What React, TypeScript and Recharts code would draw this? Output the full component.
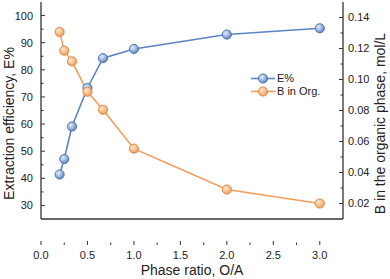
import { Label, Legend, Line, LineChart, XAxis, YAxis } from "recharts";

const phaseRatio = [0.2, 0.25, 0.333, 0.5, 0.667, 1, 2, 3];
const efficiency = [41.4, 47.1, 59.1, 73.3, 84.3, 87.7, 93.0, 95.3];
const bInOrg = [0.1307, 0.1186, 0.1117, 0.0921, 0.0805, 0.0554, 0.029, 0.02];

const xTicks = [0, 0.25, 0.5, 0.75, 1, 1.25, 1.5, 1.75, 2, 2.25, 2.5, 2.75, 3];
const leftTicks = [30, 35, 40, 45, 50, 55, 60, 65, 70, 75, 80, 85, 90, 95, 100];
const rightTicks = [0.02, 0.03, 0.04, 0.05, 0.06, 0.07, 0.08, 0.09, 0.1, 0.11, 0.12, 0.13, 0.14];

const data = phaseRatio.map((x, i) => ({ x, e: efficiency[i], b: bInOrg[i] }));

const W = 390;
const H = 279;
const PLOT_LEFT = 41;
const PLOT_RIGHT = 343;
const PLOT_TOP = 2;
const PLOT_BOTTOM = 245;
const AXIS = "#333";
const BLUE = "#5b84c4";
const ORANGE = "#f39d57";
const FONT = "Liberation Sans, Arial, sans-serif";

const renderLeftTick = (props: any) => {
  const { y, payload } = props;
  const major = payload.value % 10 === 0;
  return (
    <g key={`l-${payload.value}`}>
      <line x1={PLOT_LEFT} x2={PLOT_LEFT + (major ? 4 : 2.5)} y1={y} y2={y} stroke={AXIS} />
      {major && (
        <text x={PLOT_LEFT - 8} y={y} dy="0.36em" textAnchor="end" fontSize={11} fill="#222" fontFamily={FONT}>
          {payload.value}
        </text>
      )}
    </g>
  );
};

const renderRightTick = (props: any) => {
  const { y, payload } = props;
  const major = Math.round(payload.value * 100) % 2 === 0;
  return (
    <g key={`r-${payload.value}`}>
      <line x1={PLOT_RIGHT} x2={PLOT_RIGHT - (major ? 4 : 2.5)} y1={y} y2={y} stroke={AXIS} />
      {major && (
        <text x={PLOT_RIGHT + 5} y={y} dy="0.36em" textAnchor="start" fontSize={11} fill="#222" fontFamily={FONT}>
          {payload.value.toFixed(2)}
        </text>
      )}
    </g>
  );
};

const renderBottomTick = (props: any) => {
  const { x, payload } = props;
  const major = Math.round(payload.value * 4) % 2 === 0;
  return (
    <g key={`b-${payload.value}`}>
      <line x1={x} x2={x} y1={PLOT_BOTTOM} y2={PLOT_BOTTOM - (major ? 4 : 2.5)} stroke={AXIS} />
      {major && (
        <text x={x} y={259} textAnchor="middle" fontSize={11} fill="#222" fontFamily={FONT}>
          {payload.value.toFixed(1)}
        </text>
      )}
    </g>
  );
};

const Dot = ({ cx, cy, grad, edge }: any) => (
  <circle cx={cx} cy={cy} r={4.6} fill={`url(#${grad})`} stroke={edge} strokeWidth={0.9} />
);

const LegendBox = () => (
  <div style={{ fontFamily: FONT, fontSize: 11, color: "#222", lineHeight: "13px" }}>
    {[
      { name: "E%", color: BLUE, grad: "gBlue", edge: "#4a6ea8" },
      { name: "B in Org.", color: ORANGE, grad: "gOrange", edge: "#dd8440" },
    ].map((it) => (
      <div key={it.name} style={{ display: "flex", alignItems: "center", height: 13 }}>
        <svg width={26} height={13} style={{ display: "block" }}>
          <line x1={0} x2={24} y1={6.5} y2={6.5} stroke={it.color} strokeWidth={1.6} />
          <circle cx={12} cy={6.5} r={4.6} fill={`url(#${it.grad})`} stroke={it.edge} strokeWidth={0.9} />
        </svg>
        <span>{it.name}</span>
      </div>
    ))}
  </div>
);

export default function App() {
  return (
    <div style={{ position: "absolute", left: 0, top: 0, width: W, height: H, background: "#fff" }}>
      <LineChart width={W} height={H} data={data} margin={{ top: PLOT_TOP, right: 0, bottom: 0, left: 0 }}>
        <defs>
          <radialGradient id="gBlue" cx="38%" cy="35%" r="65%">
            <stop offset="0%" stopColor="#e6eef9" />
            <stop offset="55%" stopColor="#9db6dd" />
            <stop offset="100%" stopColor={BLUE} />
          </radialGradient>
          <radialGradient id="gOrange" cx="38%" cy="35%" r="65%">
            <stop offset="0%" stopColor="#fde8d4" />
            <stop offset="55%" stopColor="#f8c08f" />
            <stop offset="100%" stopColor={ORANGE} />
          </radialGradient>
        </defs>
        <XAxis
          xAxisId="bottom"
          dataKey="x"
          type="number"
          domain={[0, 3.25]}
          ticks={xTicks}
          interval={0}
          height={H - PLOT_BOTTOM}
          axisLine={{ stroke: AXIS, strokeWidth: 1.3 }}
          tickLine={false}
          tick={renderBottomTick}
        >
          <Label
            content={() => (
              <text x={(PLOT_LEFT + PLOT_RIGHT) / 2} y={275} textAnchor="middle" fontSize={14} fill="#222" fontFamily={FONT}>
                Phase ratio, O/A
              </text>
            )}
          />
        </XAxis>
        <XAxis
          xAxisId="top"
          orientation="top"
          dataKey="x"
          type="number"
          domain={[0, 3.25]}
          height={0}
          tick={false}
          tickLine={false}
          axisLine={{ stroke: AXIS, strokeWidth: 1.3 }}
        />
        <YAxis
          yAxisId="left"
          domain={[25, 105]}
          ticks={leftTicks}
          interval={0}
          width={PLOT_LEFT}
          axisLine={{ stroke: AXIS, strokeWidth: 1.3 }}
          tickLine={false}
          tick={renderLeftTick}
        >
          <Label
            content={() => {
              const cy = (PLOT_TOP + PLOT_BOTTOM) / 2;
              return (
                <text x={13.5} y={cy} transform={`rotate(-90, 13.5, ${cy})`} textAnchor="middle" fontSize={14} fill="#222" fontFamily={FONT}>
                  Extraction efficiency, E%
                </text>
              );
            }}
          />
        </YAxis>
        <YAxis
          yAxisId="right"
          orientation="right"
          domain={[0.01, 0.15]}
          ticks={rightTicks}
          interval={0}
          width={W - PLOT_RIGHT}
          axisLine={{ stroke: AXIS, strokeWidth: 1.3 }}
          tickLine={false}
          tick={renderRightTick}
        >
          <Label
            content={() => {
              const cy = (PLOT_TOP + PLOT_BOTTOM) / 2;
              return (
                <text x={385} y={cy} transform={`rotate(-90, 385, ${cy})`} textAnchor="middle" fontSize={14} fill="#222" fontFamily={FONT}>
                  B in the organic phase, mol/L
                </text>
              );
            }}
          />
        </YAxis>
        <Legend
          content={<LegendBox />}
          wrapperStyle={{ position: "absolute", left: 251, top: 72, width: 80 }}
        />
        <Line
          xAxisId="bottom"
          yAxisId="left"
          dataKey="e"
          name="E%"
          stroke={BLUE}
          strokeWidth={1.6}
          dot={<Dot grad="gBlue" edge="#4a6ea8" />}
          activeDot={false}
          isAnimationActive={false}
        />
        <Line
          xAxisId="bottom"
          yAxisId="right"
          dataKey="b"
          name="B in Org."
          stroke={ORANGE}
          strokeWidth={1.6}
          dot={<Dot grad="gOrange" edge="#dd8440" />}
          activeDot={false}
          isAnimationActive={false}
        />
      </LineChart>
    </div>
  );
}
